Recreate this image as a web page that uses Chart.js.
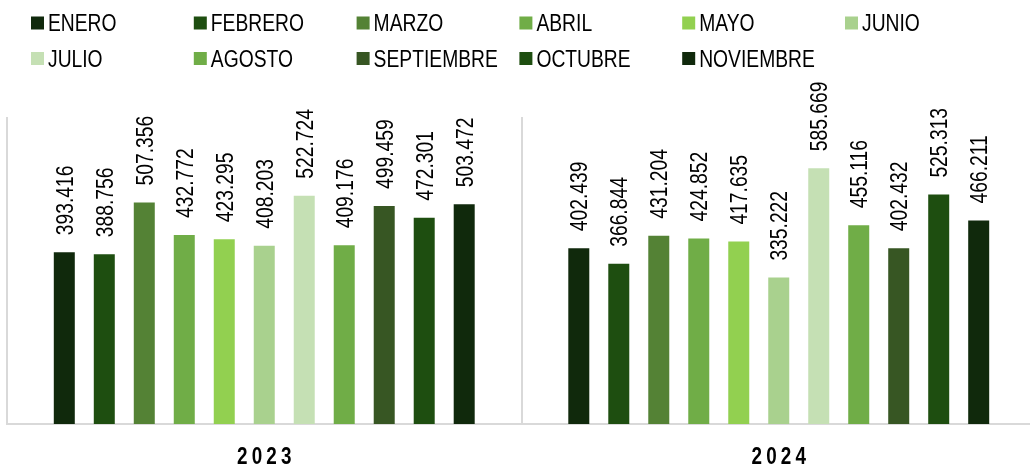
<!DOCTYPE html>
<html>
<head>
<meta charset="utf-8">
<script src="https://cdn.jsdelivr.net/npm/chart.js@4"></script>
<style>
  body { margin: 0; background: #fff; }
  #wrap { width: 1030px; height: 469px; overflow: hidden; }
</style>
</head>
<body>
<div id="wrap"><canvas id="chartMeses" width="1036" height="469"></canvas></div>
<script>
const years = ["2023", "2024"];
const months = ["ENERO", "FEBRERO", "MARZO", "ABRIL", "MAYO", "JUNIO", "JULIO", "AGOSTO", "SEPTIEMBRE", "OCTUBRE", "NOVIEMBRE"];
const values2023 = [393416, 388756, 507356, 432772, 423295, 408203, 522724, 409176, 499459, 472301, 503472];
const values2024 = [402439, 366844, 431204, 424852, 417635, 335222, 585669, 455116, 402432, 525313, 466211];
const colors = ["#10290c", "#1e4e10", "#548235", "#70ad47", "#92d050", "#a9d18e", "#c5e0b4", "#70ad47", "#375623", "#1e4e10", "#10290c"];

const FONT = '"Liberation Sans", Arial, sans-serif';
const NARROW = 0.82; // arial narrow look

function fmt(n) {
    return String(n).replace(/\B(?=(\d{3})+(?!\d))/g, ".");
}

// rotated value labels above each bar
const valueLabels = {
    id: "valueLabels",
    afterDatasetsDraw(chart) {
        const ctx = chart.ctx;
        const size = 23.5;
        ctx.save();
        ctx.font = size + "px " + FONT;
        ctx.fillStyle = "#000";
        ctx.textAlign = "left";
        ctx.textBaseline = "alphabetic";
        chart.data.datasets.forEach((ds, i) => {
            chart.getDatasetMeta(i).data.forEach((bar, j) => {
                ctx.save();
                ctx.translate(bar.x, bar.y - 17);
                ctx.rotate(-Math.PI / 2);
                ctx.scale(NARROW, 1);
                ctx.fillText(fmt(ds.data[j]), 0, size * 0.716 / 2);
                ctx.restore();
            });
        });
        ctx.restore();
    }
};

// legend in fixed columns, two rows
const gridLegend = {
    id: "gridLegend",
    afterDraw(chart) {
        const ctx = chart.ctx;
        const size = 23.5;
        const perRow = 6;
        ctx.save();
        ctx.font = size + "px " + FONT;
        ctx.textBaseline = "alphabetic";
        chart.data.datasets.forEach((ds, i) => {
            const x = 31 + (i % perRow) * 162.8;
            const y = i < perRow ? 23 : 58.5;
            ctx.fillStyle = ds.backgroundColor;
            ctx.fillRect(x, y - 6.5, 13, 13);
            ctx.fillStyle = "#000";
            ctx.save();
            ctx.translate(x + 17, y + size * 0.716 / 2);
            ctx.scale(NARROW, 1);
            ctx.fillText(ds.label, 0, 0);
            ctx.restore();
        });
        ctx.restore();
    }
};

// year labels, bold and letter spaced
const yearLabels = {
    id: "yearLabels",
    afterDraw(chart) {
        const ctx = chart.ctx;
        const xs = chart.scales.x;
        const sp = 5;
        ctx.save();
        ctx.font = "bold 23px " + FONT;
        ctx.fillStyle = "#000";
        ctx.textAlign = "left";
        ctx.textBaseline = "alphabetic";
        if ("letterSpacing" in ctx) ctx.letterSpacing = sp + "px";
        years.forEach((y, i) => {
            const cx = xs.getPixelForValue(i);
            let w = ctx.measureText(y).width;
            if ("letterSpacing" in ctx) w -= sp;
            ctx.save();
            ctx.translate(cx - w * NARROW / 2, 463.7);
            ctx.scale(NARROW, 1);
            ctx.fillText(y, 0, 0);
            ctx.restore();
        });
        ctx.restore();
    }
};

const datasets = months.map((m, i) => ({
    label: m,
    data: [values2023[i], values2024[i]],
    backgroundColor: colors[i],
    borderWidth: 0,
    categoryPercentage: 0.855,
    barPercentage: 0.525
}));

new Chart(document.getElementById("chartMeses"), {
    type: "bar",
    data: { labels: years, datasets: datasets },
    options: {
        responsive: false,
        animation: false,
        layout: { padding: { top: 117, bottom: 45, left: 7, right: 0 } },
        plugins: {
            legend: { display: false },
            tooltip: { enabled: false }
        },
        scales: {
            x: {
                ticks: { display: false },
                grid: { color: "#d9d9d9", lineWidth: 2, drawTicks: false, offset: true },
                border: { color: "#d9d9d9", width: 2 }
            },
            y: {
                display: false,
                min: 0,
                max: 703000
            }
        }
    },
    plugins: [valueLabels, gridLegend, yearLabels]
});
</script>
</body>
</html>
